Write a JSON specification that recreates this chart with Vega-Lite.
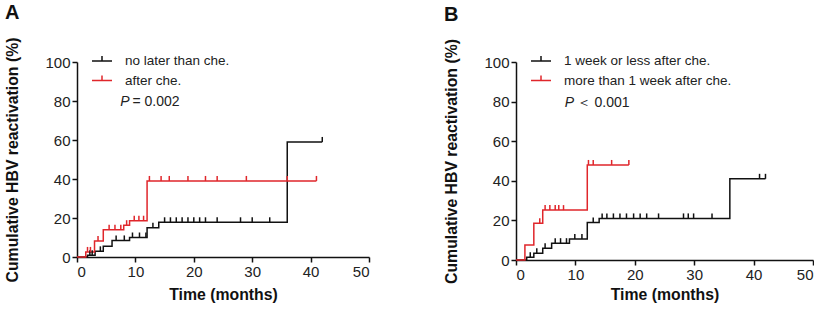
{
"$schema": "https://vega.github.io/schema/vega-lite/v6.json",
"padding": {"left": 4, "top": 3, "right": 0, "bottom": 2},
"background": "white",
"config": {
  "view": {"stroke": null},
  "font": "Liberation Sans",
  "axis": {"grid": false, "domainColor": "#111", "tickColor": "#111", "domainWidth": 1.5, "tickWidth": 1.5, "tickSize": 5, "labelFontSize": 15, "labelColor": "#222", "titleFontSize": 15.8, "titleFontWeight": "bold", "titleColor": "#111", "labelPadding": 2, "labelFont": "Liberation Sans", "titleFont": "Liberation Sans"},
  "title": {"font": "Liberation Sans", "fontSize": 20, "fontWeight": "bold", "anchor": "start", "frame": "bounds", "color": "#111", "offset": 14},
  "legend": {"orient": "none", "legendX": 14, "legendY": -12, "title": null, "symbolType": "M-1,0L1,0M0,0L0,-0.5", "symbolSize": 400, "symbolStrokeWidth": 1.5, "symbolFillColor": "transparent", "labelFontSize": 13.5, "labelFont": "Liberation Sans", "labelColor": "#222", "labelOffset": 12, "labelLimit": 400, "rowPadding": 1.5, "padding": 0}
},
"datasets": {
  "lines": [
    {"panel": "A", "group": "no later than che.", "t": 0, "s": 0},
    {"panel": "A", "group": "no later than che.", "t": 1.8, "s": 0.9},
    {"panel": "A", "group": "no later than che.", "t": 3.1, "s": 2.9},
    {"panel": "A", "group": "no later than che.", "t": 4.5, "s": 5.5},
    {"panel": "A", "group": "no later than che.", "t": 6, "s": 8.5},
    {"panel": "A", "group": "no later than che.", "t": 9, "s": 10},
    {"panel": "A", "group": "no later than che.", "t": 12, "s": 15},
    {"panel": "A", "group": "no later than che.", "t": 14, "s": 17.8},
    {"panel": "A", "group": "no later than che.", "t": 36, "s": 59},
    {"panel": "A", "group": "no later than che.", "t": 42, "s": 59},
    {"panel": "A", "group": "after che.", "t": 0, "s": 0},
    {"panel": "A", "group": "after che.", "t": 1.5, "s": 2.6},
    {"panel": "A", "group": "after che.", "t": 3, "s": 8.2},
    {"panel": "A", "group": "after che.", "t": 4.5, "s": 14},
    {"panel": "A", "group": "after che.", "t": 8, "s": 16.3},
    {"panel": "A", "group": "after che.", "t": 9, "s": 18.6},
    {"panel": "A", "group": "after che.", "t": 12, "s": 39},
    {"panel": "A", "group": "after che.", "t": 41, "s": 39},
    {"panel": "B", "group": "1 week or less after che.", "t": 0, "s": 0},
    {"panel": "B", "group": "1 week or less after che.", "t": 1.8, "s": 1.4},
    {"panel": "B", "group": "1 week or less after che.", "t": 3, "s": 3.4},
    {"panel": "B", "group": "1 week or less after che.", "t": 4.5, "s": 5.9},
    {"panel": "B", "group": "1 week or less after che.", "t": 6, "s": 8.5},
    {"panel": "B", "group": "1 week or less after che.", "t": 9, "s": 10.6},
    {"panel": "B", "group": "1 week or less after che.", "t": 12, "s": 19},
    {"panel": "B", "group": "1 week or less after che.", "t": 14, "s": 21},
    {"panel": "B", "group": "1 week or less after che.", "t": 36, "s": 41},
    {"panel": "B", "group": "1 week or less after che.", "t": 42, "s": 41},
    {"panel": "B", "group": "more than 1 week after che.", "t": 0, "s": 0},
    {"panel": "B", "group": "more than 1 week after che.", "t": 1.5, "s": 7.6},
    {"panel": "B", "group": "more than 1 week after che.", "t": 3, "s": 18.5},
    {"panel": "B", "group": "more than 1 week after che.", "t": 4.5, "s": 25.2},
    {"panel": "B", "group": "more than 1 week after che.", "t": 12, "s": 48},
    {"panel": "B", "group": "more than 1 week after che.", "t": 19, "s": 48}
  ],
  "censors": [
    {"panel": "A", "group": "no later than che.", "t": 2.2, "s": 0.9},
    {"panel": "A", "group": "no later than che.", "t": 2.6, "s": 0.9},
    {"panel": "A", "group": "no later than che.", "t": 4, "s": 2.9},
    {"panel": "A", "group": "no later than che.", "t": 6.7, "s": 8.5},
    {"panel": "A", "group": "no later than che.", "t": 8.1, "s": 8.5},
    {"panel": "A", "group": "no later than che.", "t": 9.5, "s": 10},
    {"panel": "A", "group": "no later than che.", "t": 10.7, "s": 10},
    {"panel": "A", "group": "no later than che.", "t": 11.8, "s": 10},
    {"panel": "A", "group": "no later than che.", "t": 13, "s": 15},
    {"panel": "A", "group": "no later than che.", "t": 15, "s": 17.8},
    {"panel": "A", "group": "no later than che.", "t": 16, "s": 17.8},
    {"panel": "A", "group": "no later than che.", "t": 17, "s": 17.8},
    {"panel": "A", "group": "no later than che.", "t": 18, "s": 17.8},
    {"panel": "A", "group": "no later than che.", "t": 19, "s": 17.8},
    {"panel": "A", "group": "no later than che.", "t": 20, "s": 17.8},
    {"panel": "A", "group": "no later than che.", "t": 21, "s": 17.8},
    {"panel": "A", "group": "no later than che.", "t": 22, "s": 17.8},
    {"panel": "A", "group": "no later than che.", "t": 24, "s": 17.8},
    {"panel": "A", "group": "no later than che.", "t": 28, "s": 17.8},
    {"panel": "A", "group": "no later than che.", "t": 30, "s": 17.8},
    {"panel": "A", "group": "no later than che.", "t": 33, "s": 17.8},
    {"panel": "A", "group": "no later than che.", "t": 42, "s": 59},
    {"panel": "A", "group": "after che.", "t": 1.8, "s": 2.6},
    {"panel": "A", "group": "after che.", "t": 2.3, "s": 2.6},
    {"panel": "A", "group": "after che.", "t": 3.6, "s": 8.2},
    {"panel": "A", "group": "after che.", "t": 5.5, "s": 14},
    {"panel": "A", "group": "after che.", "t": 6.5, "s": 14},
    {"panel": "A", "group": "after che.", "t": 7.5, "s": 14},
    {"panel": "A", "group": "after che.", "t": 8.5, "s": 16.3},
    {"panel": "A", "group": "after che.", "t": 9.8, "s": 18.6},
    {"panel": "A", "group": "after che.", "t": 10.6, "s": 18.6},
    {"panel": "A", "group": "after che.", "t": 11.4, "s": 18.6},
    {"panel": "A", "group": "after che.", "t": 12.4, "s": 39},
    {"panel": "A", "group": "after che.", "t": 14.4, "s": 39},
    {"panel": "A", "group": "after che.", "t": 15.8, "s": 39},
    {"panel": "A", "group": "after che.", "t": 19, "s": 39},
    {"panel": "A", "group": "after che.", "t": 22, "s": 39},
    {"panel": "A", "group": "after che.", "t": 24, "s": 39},
    {"panel": "A", "group": "after che.", "t": 29, "s": 39},
    {"panel": "A", "group": "after che.", "t": 36, "s": 39},
    {"panel": "A", "group": "after che.", "t": 41, "s": 39},
    {"panel": "B", "group": "1 week or less after che.", "t": 2.4, "s": 1.4},
    {"panel": "B", "group": "1 week or less after che.", "t": 3.5, "s": 3.4},
    {"panel": "B", "group": "1 week or less after che.", "t": 4.9, "s": 5.9},
    {"panel": "B", "group": "1 week or less after che.", "t": 6.6, "s": 8.5},
    {"panel": "B", "group": "1 week or less after che.", "t": 7.5, "s": 8.5},
    {"panel": "B", "group": "1 week or less after che.", "t": 8.5, "s": 8.5},
    {"panel": "B", "group": "1 week or less after che.", "t": 9.9, "s": 10.6},
    {"panel": "B", "group": "1 week or less after che.", "t": 11.1, "s": 10.6},
    {"panel": "B", "group": "1 week or less after che.", "t": 13, "s": 19},
    {"panel": "B", "group": "1 week or less after che.", "t": 14.5, "s": 21},
    {"panel": "B", "group": "1 week or less after che.", "t": 15.3, "s": 21},
    {"panel": "B", "group": "1 week or less after che.", "t": 16.4, "s": 21},
    {"panel": "B", "group": "1 week or less after che.", "t": 17.5, "s": 21},
    {"panel": "B", "group": "1 week or less after che.", "t": 18.6, "s": 21},
    {"panel": "B", "group": "1 week or less after che.", "t": 19.8, "s": 21},
    {"panel": "B", "group": "1 week or less after che.", "t": 20.9, "s": 21},
    {"panel": "B", "group": "1 week or less after che.", "t": 22, "s": 21},
    {"panel": "B", "group": "1 week or less after che.", "t": 24, "s": 21},
    {"panel": "B", "group": "1 week or less after che.", "t": 28.2, "s": 21},
    {"panel": "B", "group": "1 week or less after che.", "t": 29, "s": 21},
    {"panel": "B", "group": "1 week or less after che.", "t": 29.9, "s": 21},
    {"panel": "B", "group": "1 week or less after che.", "t": 33, "s": 21},
    {"panel": "B", "group": "1 week or less after che.", "t": 41, "s": 41},
    {"panel": "B", "group": "1 week or less after che.", "t": 42, "s": 41},
    {"panel": "B", "group": "more than 1 week after che.", "t": 4, "s": 18.5},
    {"panel": "B", "group": "more than 1 week after che.", "t": 4.9, "s": 25.2},
    {"panel": "B", "group": "more than 1 week after che.", "t": 5.7, "s": 25.2},
    {"panel": "B", "group": "more than 1 week after che.", "t": 6.6, "s": 25.2},
    {"panel": "B", "group": "more than 1 week after che.", "t": 7.2, "s": 25.2},
    {"panel": "B", "group": "more than 1 week after che.", "t": 8, "s": 25.2},
    {"panel": "B", "group": "more than 1 week after che.", "t": 12.2, "s": 48},
    {"panel": "B", "group": "more than 1 week after che.", "t": 13, "s": 48},
    {"panel": "B", "group": "more than 1 week after che.", "t": 16.1, "s": 48},
    {"panel": "B", "group": "more than 1 week after che.", "t": 19, "s": 48}
  ],
  "notes": [
    {"panel": "A", "style": "italic", "t": 7.4, "s": 79.5, "label": "P"},
    {"panel": "A", "style": "normal", "t": 9.5, "s": 79.5, "label": "= 0.002"},
    {"panel": "B", "style": "italic", "t": 8.2, "s": 79.5, "label": "P"},
    {"panel": "B", "style": "normal", "t": 10.2, "s": 79.5, "label": "＜ 0.001"}
  ]
},
"spacing": 73,
"resolve": {"scale": {"color": "independent"}},
"hconcat": [
  {
    "title": {"text": "A"},
    "width": 292,
    "height": 195,
    "encoding": {
      "x": {"field": "t", "type": "quantitative", "scale": {"domain": [0, 50], "nice": false}, "axis": {"title": "Time (months)", "values": [0, 10, 20, 30, 40, 50], "titlePadding": 8}},
      "y": {"field": "s", "type": "quantitative", "scale": {"domain": [0, 100], "nice": false}, "axis": {"title": "Cumulative HBV reactivation (%)", "values": [0, 20, 40, 60, 80, 100], "titlePadding": 24}}
    },
    "layer": [
      {
        "data": {"name": "lines"},
        "transform": [{"filter": "datum.panel === 'A'"}],
        "mark": {"type": "line", "interpolate": "step-after", "strokeWidth": 1.5},
        "encoding": {
          "color": {"field": "group", "type": "nominal", "scale": {"domain": ["no later than che.", "after che."], "range": ["#111111", "#e0262b"]}},
          "order": {"field": "t", "type": "quantitative"}
        }
      },
      {
        "data": {"name": "censors"},
        "transform": [{"filter": "datum.panel === 'A'"}],
        "mark": {"type": "point", "shape": "M0,0L0,-1", "filled": false, "size": 100, "strokeWidth": 1.5, "opacity": 1},
        "encoding": {
          "color": {"field": "group", "type": "nominal", "scale": {"domain": ["no later than che.", "after che."], "range": ["#111111", "#e0262b"]}}
        }
      },
      {
        "data": {"name": "notes"},
        "transform": [{"filter": "datum.panel === 'A' && datum.style === 'italic'"}],
        "mark": {"type": "text", "align": "left", "baseline": "middle", "fontSize": 14, "fontStyle": "italic", "color": "#222", "font": "Liberation Sans"},
        "encoding": {"text": {"field": "label"}}
      },
      {
        "data": {"name": "notes"},
        "transform": [{"filter": "datum.panel === 'A' && datum.style === 'normal'"}],
        "mark": {"type": "text", "align": "left", "baseline": "middle", "fontSize": 14, "color": "#222", "font": "Liberation Sans"},
        "encoding": {"text": {"field": "label"}}
      }
    ]
  },
  {
    "title": {"text": "B"},
    "width": 297,
    "height": 198,
    "encoding": {
      "x": {"field": "t", "type": "quantitative", "scale": {"domain": [0, 50], "nice": false}, "axis": {"title": "Time (months)", "values": [0, 10, 20, 30, 40, 50], "titlePadding": 5}},
      "y": {"field": "s", "type": "quantitative", "scale": {"domain": [0, 100], "nice": false}, "axis": {"title": "Cumulative HBV reactivation (%)", "values": [0, 20, 40, 60, 80, 100], "titlePadding": 24}}
    },
    "layer": [
      {
        "data": {"name": "lines"},
        "transform": [{"filter": "datum.panel === 'B'"}],
        "mark": {"type": "line", "interpolate": "step-after", "strokeWidth": 1.5},
        "encoding": {
          "color": {"field": "group", "type": "nominal", "scale": {"domain": ["1 week or less after che.", "more than 1 week after che."], "range": ["#111111", "#e0262b"]}},
          "order": {"field": "t", "type": "quantitative"}
        }
      },
      {
        "data": {"name": "censors"},
        "transform": [{"filter": "datum.panel === 'B'"}],
        "mark": {"type": "point", "shape": "M0,0L0,-1", "filled": false, "size": 100, "strokeWidth": 1.5, "opacity": 1},
        "encoding": {
          "color": {"field": "group", "type": "nominal", "scale": {"domain": ["1 week or less after che.", "more than 1 week after che."], "range": ["#111111", "#e0262b"]}}
        }
      },
      {
        "data": {"name": "notes"},
        "transform": [{"filter": "datum.panel === 'B' && datum.style === 'italic'"}],
        "mark": {"type": "text", "align": "left", "baseline": "middle", "fontSize": 14, "fontStyle": "italic", "color": "#222", "font": "Liberation Sans"},
        "encoding": {"text": {"field": "label"}}
      },
      {
        "data": {"name": "notes"},
        "transform": [{"filter": "datum.panel === 'B' && datum.style === 'normal'"}],
        "mark": {"type": "text", "align": "left", "baseline": "middle", "fontSize": 14, "color": "#222", "font": "Liberation Sans"},
        "encoding": {"text": {"field": "label"}}
      }
    ]
  }
]
}
